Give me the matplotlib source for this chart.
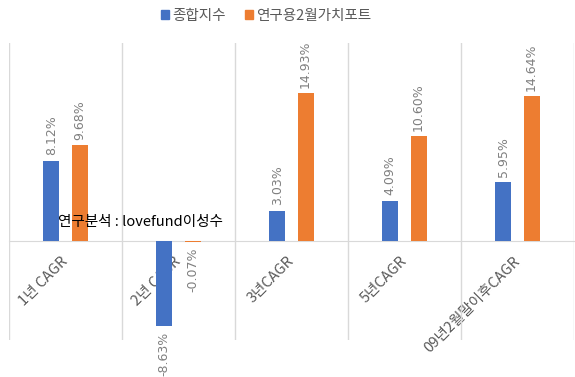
import matplotlib
matplotlib.use('Agg')
import matplotlib.pyplot as plt
from matplotlib.patches import Patch
import numpy as np

plt.rcParams['font.family'] = ['Noto Sans CJK KR', 'DejaVu Sans']

# ===== DADOS =====
categorias = ['1년 CAGR', '2년 CAGR', '3년CAGR', '5년CAGR', '09년2월말이후CAGR']
종합지수 = [8.12, -8.63, 3.03, 4.09, 5.95]
가치포트 = [9.68, -0.07, 14.93, 10.60, 14.64]
series_nomes = ['종합지수', '연구용2월가치포트']

AZUL = '#4472C4'
LARANJA = '#ED7D31'
CINZA_GRADE = '#D9D9D9'

fig = plt.figure(figsize=(5.75, 3.77), dpi=100)
ax = fig.add_axes([9 / 575, 1 - 340 / 377, 565 / 575, 297 / 377])

x = np.arange(len(categorias))
largura = 0.14
ax.bar(x - 0.125, 종합지수, largura, color=AZUL, zorder=3)
ax.bar(x + 0.125, 가치포트, largura, color=LARANJA, zorder=3)

# rótulos de dados (rotacionados)
for xs, vals in ((x - 0.125, 종합지수), (x + 0.125, 가치포트)):
    for xi, v in zip(xs, vals):
        off = 4 if v >= 0 else -4
        ax.annotate(f'{v:.2f}%', (xi, v), xytext=(0, off), textcoords='offset points',
                    rotation=90, ha='center', va='bottom' if v >= 0 else 'top',
                    fontsize=9, color='#7F7F7F', family=['DejaVu Sans'])

ax.set_xlim(-0.5, len(categorias) - 0.5)
ax.set_ylim(-10, 20)

# eixo de categorias na linha zero
for lado in ('left', 'right', 'top'):
    ax.spines[lado].set_visible(False)
ax.spines['bottom'].set_position(('data', 0))
ax.spines['bottom'].set_color(CINZA_GRADE)
ax.spines['bottom'].set_zorder(2)
ax.set_yticks([])

ax.set_xticks(x)
ax.set_xticklabels(categorias, rotation=45, ha='right', va='center',
                   rotation_mode='anchor', fontsize=10.5, color='#595959')
ax.tick_params(axis='x', which='major', length=0, pad=13)
ax.set_xticks(np.arange(-0.5, len(categorias)), minor=True)
ax.tick_params(axis='x', which='minor', length=0)
ax.grid(which='minor', axis='x', color=CINZA_GRADE, linewidth=1, zorder=0)

ax.text((58 - 9) / 565, 1 - (222 - 43) / 297, '연구분석 : lovefund이성수', transform=ax.transAxes,
        fontsize=10.5, color='black', va='center', ha='left', zorder=5)

handles = [Patch(color=AZUL), Patch(color=LARANJA)]
fig.legend(handles, series_nomes, loc='center', bbox_to_anchor=(266 / 575, 1 - 16 / 377),
           ncol=2, frameon=False, fontsize=10.5, handlelength=0.55, handleheight=0.55,
           handletextpad=0.25, columnspacing=1.3, labelcolor='#595959')

plt.savefig('out.png', dpi=100)
plt.close()
